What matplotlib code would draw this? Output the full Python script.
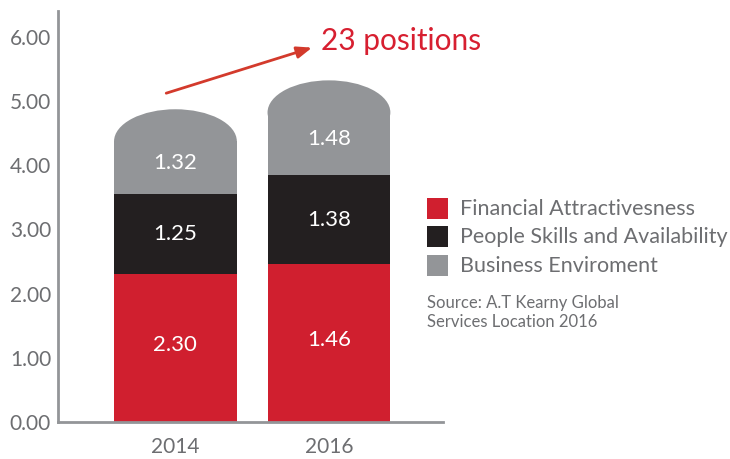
import matplotlib
matplotlib.use('Agg')
import matplotlib.pyplot as plt
from matplotlib.patches import Ellipse, Rectangle

plt.rcParams['font.family'] = ['Lato', 'DejaVu Sans']

# data
years = ['2014', '2016']
financial = [2.30, 2.46]
people = [1.25, 1.38]
business = [1.32, 1.48]
# printed labels (the 2016 red one says 1.46 in the original)
financial_labels = ['2.30', '1.46']
people_labels = ['1.25', '1.38']
business_labels = ['1.32', '1.48']
series_names = ['Financial Attractivesness', 'People Skills and Availability', 'Business Enviroment']
yticks = [0, 1, 2, 3, 4, 5, 6]

RED = '#d01f2f'
BLACK = '#231f20'
GREY = '#939598'
TXT = '#6d6e71'

fig = plt.figure(figsize=(7.3, 4.59), dpi=100)
ax = fig.add_axes([58 / 730, 37 / 459, 385 / 730, 411 / 459])

x = list(range(len(years)))
w = 0.80
dome = 0.5

ax.bar(x, financial, width=w, color=RED, linewidth=0)
ax.bar(x, people, width=w, bottom=financial, color=BLACK, linewidth=0)
base2 = [a + b for a, b in zip(financial, people)]
rect_h = [c - dome for c in business]
ax.bar(x, rect_h, width=w, bottom=base2, color=GREY, linewidth=0)
for xi, b, h in zip(x, base2, rect_h):
    ax.add_patch(Ellipse((xi, b + h), w, 2 * dome, color=GREY, linewidth=0))

# segment labels
for xi, f, p, b, h, fl, pl, bl in zip(x, financial, people, base2, rect_h,
                                      financial_labels, people_labels, business_labels):
    ax.text(xi, f / 2 + 0.05, fl, ha='center', va='center', color='white', fontsize=16)
    ax.text(xi, f + p / 2, pl, ha='center', va='center', color='white', fontsize=16)
    ax.text(xi, b + h / 2 + 0.08, bl, ha='center', va='center', color='white', fontsize=16)

ax.set_xlim(-0.765, 1.743)
ax.set_ylim(0, 6.4)
ax.set_yticks(yticks)
ax.set_yticklabels([f'{t:.2f}' for t in yticks])
ax.set_xticks(x)
ax.set_xticklabels(years)
ax.tick_params(length=0, labelsize=15, labelcolor=TXT)
ax.tick_params(axis='x', pad=11)
ax.tick_params(axis='y', pad=5)
for s in ['top', 'right']:
    ax.spines[s].set_visible(False)
for s in ['left', 'bottom']:
    ax.spines[s].set_color(GREY)
    ax.spines[s].set_linewidth(2)

# arrow + callout
ax.annotate('', xy=(0.89, 5.83), xytext=(-0.06, 5.12),
            arrowprops=dict(arrowstyle='-|>,head_length=0.9,head_width=0.35',
                            color='#d33a2c', lw=2, shrinkA=0, shrinkB=0))
ax.text(0.947, 5.79, '23 positions', color='#d71f30', fontsize=21.5,
        ha='left', va='baseline', clip_on=False)

# legend
colors = [RED, BLACK, GREY]
rows = [209, 237, 266]
for c, name, yc in zip(colors, series_names, rows):
    fig.add_artist(Rectangle((427 / 730, 1 - (yc + 10) / 459), 21 / 730, 21 / 459,
                             transform=fig.transFigure, color=c, linewidth=0))
    fig.text(460 / 730, 1 - yc / 459, name, color=TXT, fontsize=15.5, va='center', ha='left')

fig.text(427 / 730, 1 - 303 / 459, 'Source: A.T Kearny Global', color=TXT, fontsize=12, va='center')
fig.text(427 / 730, 1 - 322 / 459, 'Services Location 2016', color=TXT, fontsize=12, va='center')

fig.savefig('out.png', dpi=100)
